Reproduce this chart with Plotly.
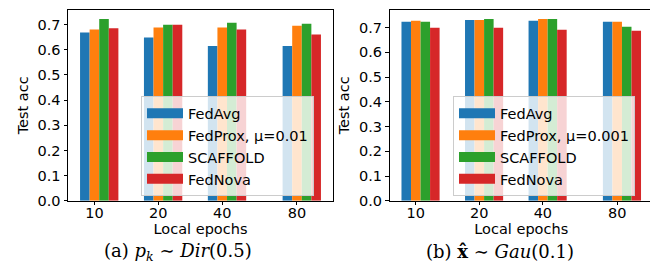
import plotly.graph_objects as go

# ---------------- data ----------------
epoch_labels = ["10", "20", "40", "80"]
epoch_pos = [1.0, 2.0, 3.0, 4.17]

series_names_a = ["FedAvg", "FedProx, μ=0.01", "SCAFFOLD", "FedNova"]
series_names_b = ["FedAvg", "FedProx, μ=0.001", "SCAFFOLD", "FedNova"]

fedavg_a = [0.668, 0.649, 0.615, 0.615]
fedprox_a = [0.680, 0.688, 0.688, 0.695]
scaffold_a = [0.722, 0.699, 0.707, 0.703]
fednova_a = [0.685, 0.699, 0.680, 0.661]

fedavg_b = [0.724, 0.731, 0.728, 0.724]
fedprox_b = [0.728, 0.731, 0.735, 0.724]
scaffold_b = [0.724, 0.735, 0.735, 0.704]
fednova_b = [0.700, 0.700, 0.692, 0.688]

colors = ["#1f77b4", "#ff7f0e", "#2ca02c", "#d62728"]
bar_w = 0.15

FONT = "DejaVu Sans"
FS = 14.5

fig = go.Figure()

panels = [
    ("x", "y", "legend", series_names_a, [fedavg_a, fedprox_a, scaffold_a, fednova_a]),
    ("x2", "y2", "legend2", series_names_b, [fedavg_b, fedprox_b, scaffold_b, fednova_b]),
]

for xa, ya, leg, names, vals in panels:
    for i, (name, v) in enumerate(zip(names, vals)):
        fig.add_trace(go.Bar(
            x=epoch_pos, y=v, width=bar_w, offset=(i - 1.5) * bar_w,
            marker=dict(color=colors[i], line=dict(width=0)),
            name=name, showlegend=False, xaxis=xa, yaxis=ya,
        ))
    for i, name in enumerate(names):
        fig.add_trace(go.Scatter(
            x=[epoch_pos[0]], y=[0], mode="lines",
            line=dict(color=colors[i], width=11),
            name=name, legend=leg, xaxis=xa, yaxis=ya, showlegend=True,
            hoverinfo="skip",
        ))

lo = epoch_pos[0] - 1.5 * bar_w
hi = epoch_pos[-1] + 2.5 * bar_w
pad = 0.05 * (hi - lo)
xr = [lo - pad, hi + pad]

ymax_a = max(max(s) for s in panels[0][4]) * 1.05
ymax_b = max(max(s) for s in panels[1][4]) * 1.05

axis_common = dict(
    showline=True, linecolor="black", linewidth=1, mirror=True,
    ticks="outside", ticklen=3.5, tickwidth=1, tickcolor="black",
    showgrid=False, zeroline=False,
    tickfont=dict(family=FONT, size=FS, color="black"),
)

ydom = [1 - 198.5 / 277, 1 - 2 / 277]
yticks = [0, 0.1, 0.2, 0.3, 0.4, 0.5, 0.6, 0.7]
yticktext = ["0.0", "0.1", "0.2", "0.3", "0.4", "0.5", "0.6", "0.7"]

fig.update_layout(
    width=658, height=277,
    margin=dict(l=0, r=0, t=0, b=0),
    paper_bgcolor="white", plot_bgcolor="white",
    font=dict(family=FONT, size=FS, color="black"),
    barmode="overlay",
    xaxis=dict(domain=[60 / 658, 325 / 658], range=xr, tickmode="array",
               tickvals=epoch_pos, ticktext=epoch_labels, ticklabelstandoff=-5,
               title=dict(text="Local epochs", standoff=4, font=dict(family=FONT, size=FS)),
               anchor="y", **axis_common),
    yaxis=dict(domain=ydom, range=[0, ymax_a], tickmode="array",
               tickvals=yticks, ticktext=yticktext,
               title=dict(text="Test acc", standoff=5, font=dict(family=FONT, size=FS)),
               anchor="x", **axis_common),
    xaxis2=dict(domain=[381.5 / 658, 645 / 658], range=xr, tickmode="array",
                tickvals=epoch_pos, ticktext=epoch_labels, ticklabelstandoff=-5,
                title=dict(text="Local epochs", standoff=4, font=dict(family=FONT, size=FS)),
                anchor="y2", **axis_common),
    yaxis2=dict(domain=ydom, range=[0, ymax_b], tickmode="array",
                tickvals=yticks, ticktext=yticktext,
                title=dict(text="Test acc", standoff=5, font=dict(family=FONT, size=FS)),
                anchor="x2", **axis_common),
    legend=dict(x=133 / 658, y=1 - 91 / 277, xanchor="left", yanchor="top",
                bgcolor="rgba(255,255,255,0.8)", bordercolor="#cccccc", borderwidth=1,
                font=dict(family=FONT, size=FS, color="black"), itemwidth=36,
                tracegroupgap=0),
    legend2=dict(x=445 / 658, y=1 - 91 / 277, xanchor="left", yanchor="top",
                 bgcolor="rgba(255,255,255,0.8)", bordercolor="#cccccc", borderwidth=1,
                 font=dict(family=FONT, size=FS, color="black"), itemwidth=36,
                 tracegroupgap=0),
    annotations=[
        dict(text="(a) <i>p</i><sub><i>k</i></sub> ∼ <i>Dir</i>(0.5)", x=170 / 658, y=1 - 251 / 277,
             xref="paper", yref="paper", showarrow=False, xanchor="center", yanchor="middle",
             font=dict(family="DejaVu Serif", size=18, color="black")),
        dict(text="(b) <b>x̂</b> ∼ <i>Gau</i>(0.1)", x=492 / 658, y=1 - 251 / 277,
             xref="paper", yref="paper", showarrow=False, xanchor="center", yanchor="middle",
             font=dict(family="DejaVu Serif", size=18, color="black")),
    ],
)

fig.write_html("out.html")
